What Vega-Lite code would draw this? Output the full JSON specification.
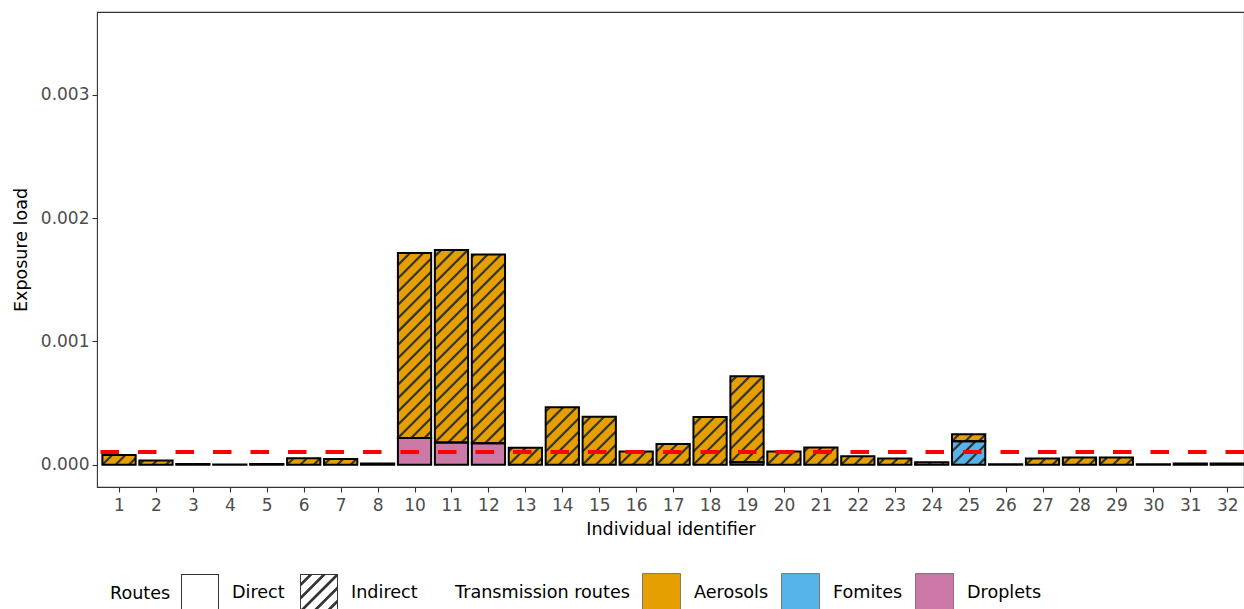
{
  "$schema": "https://vega.github.io/schema/vega-lite/v6.json",
  "width": 1147,
  "height": 475,
  "autosize": {"type": "none"},
  "padding": {"left": 97, "top": 12, "right": 0, "bottom": 122},
  "config": {
    "font": "DejaVu Sans",
    "view": {"stroke": "#333333", "strokeWidth": 1.1},
    "axis": {
      "grid": false,
      "domain": false,
      "labelFont": "DejaVu Sans",
      "labelFontSize": 17,
      "labelColor": "#4D4D4D",
      "labelOverlap": false,
      "titleFont": "DejaVu Sans",
      "titleFontSize": 17.5,
      "titleFontWeight": "normal",
      "titleColor": "#000000",
      "tickColor": "#333333",
      "tickSize": 5,
      "tickWidth": 1.1
    },
    "legend": {
      "labelFont": "DejaVu Sans",
      "labelFontSize": 17.6,
      "labelColor": "#000000",
      "titleFont": "DejaVu Sans",
      "titleFontSize": 17.6,
      "titleFontWeight": "normal",
      "titleColor": "#000000"
    }
  },
  "data": {
    "values": [
      {"id": 1, "route": "Aerosols", "mode": "Indirect", "value": 0.000079},
      {"id": 2, "route": "Aerosols", "mode": "Indirect", "value": 0.000034},
      {"id": 3, "route": "Aerosols", "mode": "Indirect", "value": 0.000006},
      {"id": 4, "route": "Aerosols", "mode": "Indirect", "value": 0.000003},
      {"id": 5, "route": "Aerosols", "mode": "Indirect", "value": 0.000006},
      {"id": 6, "route": "Aerosols", "mode": "Indirect", "value": 0.000053},
      {"id": 7, "route": "Aerosols", "mode": "Indirect", "value": 0.000047},
      {"id": 8, "route": "Aerosols", "mode": "Indirect", "value": 0.00001},
      {"id": 10, "route": "Droplets", "mode": "Direct", "value": 0.000217},
      {"id": 10, "route": "Aerosols", "mode": "Indirect", "value": 0.0015},
      {"id": 11, "route": "Droplets", "mode": "Direct", "value": 0.00018},
      {"id": 11, "route": "Aerosols", "mode": "Indirect", "value": 0.00156},
      {"id": 12, "route": "Droplets", "mode": "Direct", "value": 0.000174},
      {"id": 12, "route": "Aerosols", "mode": "Indirect", "value": 0.00153},
      {"id": 13, "route": "Aerosols", "mode": "Indirect", "value": 0.000139},
      {"id": 14, "route": "Aerosols", "mode": "Indirect", "value": 0.000466},
      {"id": 15, "route": "Aerosols", "mode": "Indirect", "value": 0.00039},
      {"id": 16, "route": "Aerosols", "mode": "Indirect", "value": 0.000107},
      {"id": 17, "route": "Aerosols", "mode": "Indirect", "value": 0.000169},
      {"id": 18, "route": "Aerosols", "mode": "Indirect", "value": 0.000387},
      {"id": 19, "route": "Aerosols", "mode": "Direct", "value": 0.00002},
      {"id": 19, "route": "Aerosols", "mode": "Indirect", "value": 0.000697},
      {"id": 20, "route": "Aerosols", "mode": "Indirect", "value": 0.000107},
      {"id": 21, "route": "Aerosols", "mode": "Indirect", "value": 0.00014},
      {"id": 22, "route": "Aerosols", "mode": "Indirect", "value": 0.00007},
      {"id": 23, "route": "Aerosols", "mode": "Indirect", "value": 0.00005},
      {"id": 24, "route": "Aerosols", "mode": "Indirect", "value": 0.00002},
      {"id": 25, "route": "Fomites", "mode": "Indirect", "value": 0.00019},
      {"id": 25, "route": "Aerosols", "mode": "Indirect", "value": 0.000057},
      {"id": 26, "route": "Aerosols", "mode": "Indirect", "value": 0.000005},
      {"id": 27, "route": "Aerosols", "mode": "Indirect", "value": 0.00005},
      {"id": 28, "route": "Aerosols", "mode": "Indirect", "value": 0.00006},
      {"id": 29, "route": "Aerosols", "mode": "Indirect", "value": 0.00006},
      {"id": 30, "route": "Aerosols", "mode": "Indirect", "value": 0.000005},
      {"id": 31, "route": "Aerosols", "mode": "Indirect", "value": 0.00001},
      {"id": 32, "route": "Aerosols", "mode": "Indirect", "value": 0.00001}
    ]
  },
  "layer": [
    {
      "transform": [
        {"calculate": "datum.id < 9 ? datum.id : datum.id - 1", "as": "idx"},
        {"stack": "value", "groupby": ["id"], "sort": [{"field": "route", "order": "descending"}, {"field": "mode", "order": "ascending"}], "as": ["v0", "v1"]}
      ],
      "layer": [
        {
          "mark": {"type": "bar", "width": 33.25},
          "encoding": {
            "x": {
              "field": "idx", "type": "quantitative",
              "scale": {"domain": [0.404, 31.454], "nice": false, "zero": false, "padding": 0},
              "axis": {
                "values": [1,2,3,4,5,6,7,8,9,10,11,12,13,14,15,16,17,18,19,20,21,22,23,24,25,26,27,28,29,30,31],
                "tickCount": 40,
                "labelExpr": "datum.value >= 9 ? datum.value + 1 : datum.value",
                "labelOverlap": false,
                "labelFlush": false,
                "labelPadding": 5,
                "titlePadding": 7
              },
              "title": "Individual identifier"
            },
            "y": {
              "field": "v1", "type": "quantitative",
              "scale": {"domain": [-0.00018, 0.00367], "nice": false, "zero": false, "padding": 0},
              "axis": {"values": [0, 0.001, 0.002, 0.003], "tickCount": 10, "format": ".3f", "labelOverlap": false, "labelPadding": 3, "titlePadding": 10},
              "title": "Exposure load"
            },
            "y2": {"field": "v0"},
            "fill": {
              "field": "route", "type": "nominal",
              "scale": {"domain": ["Aerosols", "Fomites", "Droplets"], "range": ["#E69F00", "#56B4E9", "#CC79A7"]},
              "legend": {
                "title": "Transmission routes",
                "orient": "none",
                "legendX": 358,
                "legendY": 561,
                "direction": "horizontal",
                "titleOrient": "left",
                "titlePadding": 12,
                "symbolType": "square",
                "symbolSize": 1444,
                "labelOffset": 13,
                "columnPadding": 11,
                "encode": {"symbols": {"update": {"stroke": {"value": "#555555"}, "strokeWidth": {"value": 0.7}, "opacity": {"value": 1}}}}
              }
            }
          }
        },
        {
          "transform": [
            {"filter": "datum.mode === 'Indirect'"},
            {"calculate": "sequence(0, ceil((datum.v1 - datum.v0 + 0.00026947) / 0.0001078) + 1)", "as": "ks"},
            {"flatten": ["ks"], "as": ["k"]},
            {"calculate": "datum.v0 - 0.00026947 + (datum.k + 0.5) * 0.0001078", "as": "c"},
            {"filter": "datum.c < datum.v1"},
            {"calculate": "datum.idx - 0.45", "as": "L"},
            {"calculate": "datum.c >= datum.v0 ? datum.L : datum.L + (datum.v0 - datum.c) / 0.00029941", "as": "xs"},
            {"calculate": "max(datum.c, datum.v0)", "as": "ys"},
            {"calculate": "datum.c + 0.00026947 <= datum.v1 ? datum.L + 0.9 : datum.L + (datum.v1 - datum.c) / 0.00029941", "as": "xe"},
            {"calculate": "min(datum.c + 0.00026947, datum.v1)", "as": "ye"}
          ],
          "mark": {"type": "rule", "color": "#333333", "strokeWidth": 2.2, "strokeCap": "butt"},
          "encoding": {
            "x": {"field": "xs", "type": "quantitative", "title": "Individual identifier"},
            "x2": {"field": "xe"},
            "y": {"field": "ys", "type": "quantitative", "title": "Exposure load"},
            "y2": {"field": "ye"}
          }
        },
        {
          "mark": {"type": "bar", "width": 33.25, "fillOpacity": 0, "stroke": "#000000", "strokeWidth": 2},
          "encoding": {
            "x": {"field": "idx", "type": "quantitative", "title": "Individual identifier"},
            "y": {"field": "v1", "type": "quantitative", "title": "Exposure load"},
            "y2": {"field": "v0"}
          }
        },
        {
          "mark": {"type": "point", "filled": true, "opacity": 0, "color": "#333333"},
          "encoding": {
            "x": {"field": "idx", "type": "quantitative", "title": "Individual identifier"},
            "y": {"field": "v1", "type": "quantitative", "title": "Exposure load"},
            "shape": {
              "field": "mode", "type": "nominal",
              "scale": {
                "domain": ["Direct", "Indirect"],
                "range": [
                  "M-1,-1H1V1H-1Z M-0.95,-0.95V0.95H0.95V-0.95Z",
                  "M-1,-1H1V1H-1Z M-0.95,-0.95V0.95H0.95V-0.95Z M1,-0.4L1,-0.2L-0.2,1L-0.4,1Z M1,0.3L1,0.5L0.5,1L0.3,1Z M0.2,-1L0.4,-1L-1,0.4L-1,0.2Z M-0.5,-1L-0.3,-1L-1,-0.3L-1,-0.5Z M0.9,-1L1,-1L1,-0.9L-0.9,1L-1,1L-1,0.9Z"
                ]
              },
              "legend": {
                "title": "Routes",
                "orient": "none",
                "legendX": 13,
                "legendY": 561,
                "direction": "horizontal",
                "titleOrient": "left",
                "titlePadding": 9,
                "symbolSize": 1444,
                "labelOffset": 12,
                "columnPadding": 12,
                "encode": {"symbols": {"update": {"fill": {"value": "#333333"}, "strokeWidth": {"value": 0}, "opacity": {"value": 1}}}}
              }
            }
          }
        }
      ]
    },
    {
      "data": {"values": [{"threshold": 0.000104}]},
      "mark": {"type": "rule", "color": "#FF0000", "strokeWidth": 4, "strokeDash": [18.5, 19]},
      "encoding": {
        "y": {"field": "threshold", "type": "quantitative", "title": "Exposure load"}
      }
    }
  ]
}
